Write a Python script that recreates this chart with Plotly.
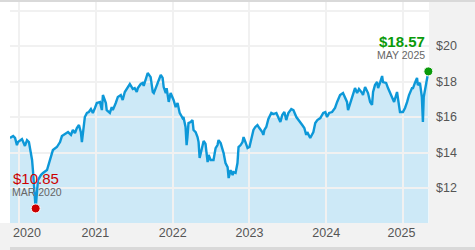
import plotly.graph_objects as go

# ---- data ----
dates = [
    "2019-11-19", "2019-12-04", "2019-12-13", "2019-12-22", "2019-12-27", "2020-01-15", "2020-01-29",
    "2020-02-08", "2020-02-17", "2020-02-27", "2020-03-03", "2020-03-07", "2020-03-12", "2020-03-16",
    "2020-03-18", "2020-03-20", "2020-03-26", "2020-03-31", "2020-04-14", "2020-04-24", "2020-05-13",
    "2020-05-22", "2020-06-01", "2020-06-10", "2020-06-29", "2020-07-14", "2020-07-23", "2020-08-06",
    "2020-08-21", "2020-09-04", "2020-09-13", "2020-09-23", "2020-10-02", "2020-10-12", "2020-10-21",
    "2020-10-26", "2020-10-31", "2020-11-09", "2020-11-19", "2020-11-28", "2020-12-08", "2020-12-17",
    "2020-12-27", "2021-01-05", "2021-01-20", "2021-01-29", "2021-02-03", "2021-02-17", "2021-02-21",
    "2021-03-08", "2021-03-17", "2021-03-22", "2021-04-05", "2021-04-15", "2021-04-29", "2021-05-08",
    "2021-05-18", "2021-06-01", "2021-06-11", "2021-06-25", "2021-07-04", "2021-07-14", "2021-07-19",
    "2021-08-02", "2021-08-11", "2021-08-16", "2021-08-26", "2021-09-04", "2021-09-18", "2021-09-28",
    "2021-10-03", "2021-10-17", "2021-10-26", "2021-11-05", "2021-11-14", "2021-11-19", "2021-11-29",
    "2021-12-03", "2021-12-13", "2021-12-22", "2022-01-05", "2022-01-15", "2022-01-24", "2022-02-03",
    "2022-02-17", "2022-02-21", "2022-03-03", "2022-03-08", "2022-03-12", "2022-03-17", "2022-03-27",
    "2022-04-05", "2022-04-10", "2022-04-20", "2022-04-29", "2022-05-04", "2022-05-09", "2022-05-18",
    "2022-05-28", "2022-06-06", "2022-06-16", "2022-06-21", "2022-06-30", "2022-07-14", "2022-07-24",
    "2022-08-02", "2022-08-07", "2022-08-17", "2022-08-26", "2022-08-31", "2022-09-09", "2022-09-19",
    "2022-09-24", "2022-10-03", "2022-10-13", "2022-10-17", "2022-10-27", "2022-11-05", "2022-11-10",
    "2022-11-20", "2022-11-29", "2022-12-04", "2022-12-13", "2022-12-23", "2023-01-01", "2023-01-10",
    "2023-01-20", "2023-01-29", "2023-02-08", "2023-02-17", "2023-03-03", "2023-03-08", "2023-03-13",
    "2023-03-22", "2023-04-01", "2023-04-15", "2023-04-25", "2023-05-09", "2023-05-18", "2023-05-28",
    "2023-06-06", "2023-06-16", "2023-06-25", "2023-07-05", "2023-07-19", "2023-07-29", "2023-08-12",
    "2023-08-21", "2023-08-31", "2023-09-09", "2023-09-19", "2023-09-28", "2023-10-03", "2023-10-17",
    "2023-11-01", "2023-11-10", "2023-11-20", "2023-12-04", "2023-12-18", "2023-12-28", "2024-01-05",
    "2024-01-15", "2024-01-29", "2024-02-03", "2024-02-12", "2024-02-22", "2024-03-07", "2024-03-21",
    "2024-03-31", "2024-04-09", "2024-04-14", "2024-04-24", "2024-05-08", "2024-05-17", "2024-05-27",
    "2024-06-05", "2024-06-20", "2024-06-24", "2024-07-04", "2024-07-13", "2024-07-18", "2024-07-28",
    "2024-08-06", "2024-08-11", "2024-08-20", "2024-08-30", "2024-09-04", "2024-09-13", "2024-09-23",
    "2024-09-27", "2024-10-12", "2024-10-21", "2024-10-31", "2024-11-09", "2024-11-19", "2024-12-03",
    "2024-12-08", "2024-12-17", "2024-12-31", "2025-01-10", "2025-01-20", "2025-01-29", "2025-02-12",
    "2025-02-17", "2025-02-26", "2025-03-08", "2025-03-12", "2025-03-22", "2025-03-31", "2025-04-05",
    "2025-04-09", "2025-04-14", "2025-04-24", "2025-05-01",
]
prices = [
    14.82, 14.93, 14.82, 14.42, 14.59, 14.76, 14.37,
    14.70, 14.59, 13.97, 13.58, 13.01, 12.28, 11.72,
    11.15, 10.85, 11.72, 12.45, 12.73, 12.85, 13.01,
    13.41, 13.75, 14.14, 14.31, 14.59, 14.93, 15.04,
    15.15, 14.99, 15.27, 15.10, 15.38, 15.55, 15.15,
    14.59, 15.15, 16.00, 16.23, 16.28, 16.45, 16.23,
    16.51, 16.79, 16.85, 16.39, 17.24, 16.79, 16.39,
    16.23, 16.56, 16.39, 16.79, 17.13, 17.24, 16.96,
    17.41, 17.69, 17.86, 17.58, 17.63, 17.41, 17.63,
    17.86, 17.92, 17.75, 18.08, 18.48, 18.25, 17.41,
    17.35, 17.80, 17.97, 18.37, 18.20, 17.69, 17.35,
    17.63, 16.85, 17.35, 16.96, 16.56, 16.79, 16.23,
    15.94, 16.00, 15.44, 14.42, 14.87, 15.66, 15.72,
    15.83, 15.27, 15.15, 14.87, 14.59, 13.69, 14.14,
    14.65, 14.48, 13.46, 13.86, 13.58, 13.58, 14.25,
    14.42, 14.70, 14.53, 14.14, 13.97, 13.41, 13.18,
    12.56, 13.01, 12.73, 12.90, 12.85, 13.41, 14.31,
    14.42, 14.59, 14.87, 14.59, 14.25, 14.31, 14.82,
    15.27, 15.44, 15.55, 15.38, 15.15, 14.99, 15.27,
    15.44, 15.89, 16.23, 16.17, 16.23, 16.00, 15.72,
    16.11, 16.28, 15.83, 16.23, 16.45, 16.39, 16.00,
    15.83, 15.72, 15.55, 15.38, 14.99, 15.15, 14.82,
    15.15, 15.66, 15.83, 15.94, 16.23, 16.28, 16.00,
    16.23, 16.28, 16.39, 16.51, 16.85, 17.24, 17.35,
    17.13, 16.85, 16.39, 16.79, 17.35, 17.63, 17.35,
    17.58, 17.35, 17.24, 17.69, 17.41, 17.35, 16.85,
    16.68, 17.41, 17.80, 17.97, 17.63, 17.92, 18.31,
    17.97, 17.92, 17.63, 17.35, 17.13, 16.85, 17.41,
    16.96, 16.28, 16.28, 16.51, 16.85, 17.24, 17.63,
    17.63, 17.92, 18.20, 17.80, 17.92, 17.13, 15.72,
    17.13, 17.52, 18.08, 18.57,
]
low_date, low_price, low_label = "2020-03-20", 10.85, "MAR 2020"
last_date, last_price, last_label = "2025-05-01", 18.57, "MAY 2025"
y_tick_vals = [12, 14, 16, 18, 20, 22]
y_tick_text = ["$12", "$14", "$16", "$18", "$20", ""]
year_grid = ["2020-01-01", "2021-01-01", "2022-01-01", "2023-01-01", "2024-01-01", "2025-01-01"]
year_label_pos = ["2020-02-08", "2020-12-29", "2022-01-01", "2023-01-01", "2024-01-01", "2024-12-24"]
year_labels = ["2020", "2021", "2022", "2023", "2024", "2025"]

# ---- styling ----
W, H = 475, 250
L, R, T, B = 10, 46, 2, 27
FONT = "Liberation Sans, Arial, sans-serif"
LINE = "#0d98d8"
FILL = "#cde9f7"
GRID = "#f1f1f1"
X_RANGE = ["2019-11-19", "2025-05-04"]
Y_RANGE = [10.03, 22.48]
pw, ph = W - L - R, H - T - B


def px(x):
    return (x - L) / pw


def py(y):
    return (H - B - y) / ph


fig = go.Figure()
# fill on the lower subplot (below gridlines)
fig.add_trace(go.Scatter(x=dates, y=prices, mode="lines", line=dict(width=0, color=FILL),
                         fill="tozeroy", fillcolor=FILL, xaxis="x", yaxis="y",
                         hoverinfo="skip", showlegend=False))
# line on the upper subplot (above gridlines)
fig.add_trace(go.Scatter(x=dates, y=prices, mode="lines", line=dict(width=2.4, color=LINE),
                         xaxis="x2", yaxis="y2", showlegend=False))
fig.add_trace(go.Scatter(x=[low_date], y=[low_price], mode="markers", cliponaxis=False,
                         marker=dict(size=9, color="#cc0000", line=dict(width=1, color="white")),
                         xaxis="x2", yaxis="y2", showlegend=False))
fig.add_trace(go.Scatter(x=[last_date], y=[last_price], mode="markers", cliponaxis=False,
                         marker=dict(size=9, color="#0a9a0a", line=dict(width=1, color="white")),
                         xaxis="x2", yaxis="y2", showlegend=False))

annos = [
    dict(x=px(11), y=py(178), text=f"${low_price:.2f}", xanchor="left", yanchor="middle",
         font=dict(family=FONT, size=15, color="#cc0000")),
    dict(x=px(10), y=py(192), text=low_label, xanchor="left", yanchor="middle",
         font=dict(family=FONT, size=10.5, color="#666666")),
    dict(x=px(427), y=py(41), text=f"<b>${last_price:.2f}</b>", xanchor="right", yanchor="middle",
         font=dict(family=FONT, size=15, color="#0a9a0a")),
    dict(x=px(427), y=py(55), text=last_label, xanchor="right", yanchor="middle",
         font=dict(family=FONT, size=10.5, color="#666666")),
]
for a in annos:
    a.update(xref="paper", yref="paper", showarrow=False)

shapes = [
    # white plot area background
    dict(type="rect", xref="paper", yref="paper", x0=0, x1=1, y0=0, y1=1,
         fillcolor="white", line=dict(width=0), layer="below"),
    # right axis panel
    dict(type="rect", xref="paper", yref="paper", x0=1, x1=px(W), y0=py(H), y1=py(0),
         fillcolor="#f2f2f2", line=dict(width=0), layer="below"),
    # bottom axis strip
    dict(type="rect", xref="paper", yref="paper", x0=px(0), x1=1, y0=py(H), y1=0,
         fillcolor="#f2f2f2", line=dict(width=0), layer="below"),
    # top border line
    dict(type="rect", xref="paper", yref="paper", x0=px(0), x1=px(W), y0=py(2), y1=py(0),
         fillcolor="#d9d9d9", line=dict(width=0), layer="below"),
    # bottom border line
    dict(type="rect", xref="paper", yref="paper", x0=px(10), x1=px(W), y0=py(H), y1=py(247),
         fillcolor="#d9d9d9", line=dict(width=0), layer="below"),
]

tickfont = dict(family=FONT, size=12.5, color="#555555")
fig.update_layout(
    width=W, height=H, margin=dict(l=L, r=R, t=T, b=B),
    paper_bgcolor="white", plot_bgcolor="rgba(0,0,0,0)",
    showlegend=False, annotations=annos, shapes=shapes,
    xaxis=dict(domain=[0, 1], range=X_RANGE, type="date", showgrid=False, zeroline=False,
               tickmode="array", tickvals=year_label_pos, ticktext=year_labels,
               ticks="", tickfont=tickfont, ticklabelstandoff=0, fixedrange=True, showline=False),
    yaxis=dict(domain=[0, 1], range=Y_RANGE, showgrid=False, zeroline=False,
               showticklabels=False, ticks="", anchor="x"),
    xaxis2=dict(domain=[0, 1], range=X_RANGE, type="date", anchor="y2", showgrid=True,
                gridcolor=GRID, gridwidth=2, tickmode="array", tickvals=year_grid,
                showticklabels=False, ticks="", zeroline=False),
    yaxis2=dict(domain=[0, 1], range=Y_RANGE, anchor="x2", side="right", showgrid=True,
                gridcolor=GRID, gridwidth=2, tickmode="array", tickvals=y_tick_vals,
                ticktext=y_tick_text, ticks="", tickfont=tickfont, ticklabelstandoff=6,
                zeroline=False),
)

fig.write_html("out.html")
